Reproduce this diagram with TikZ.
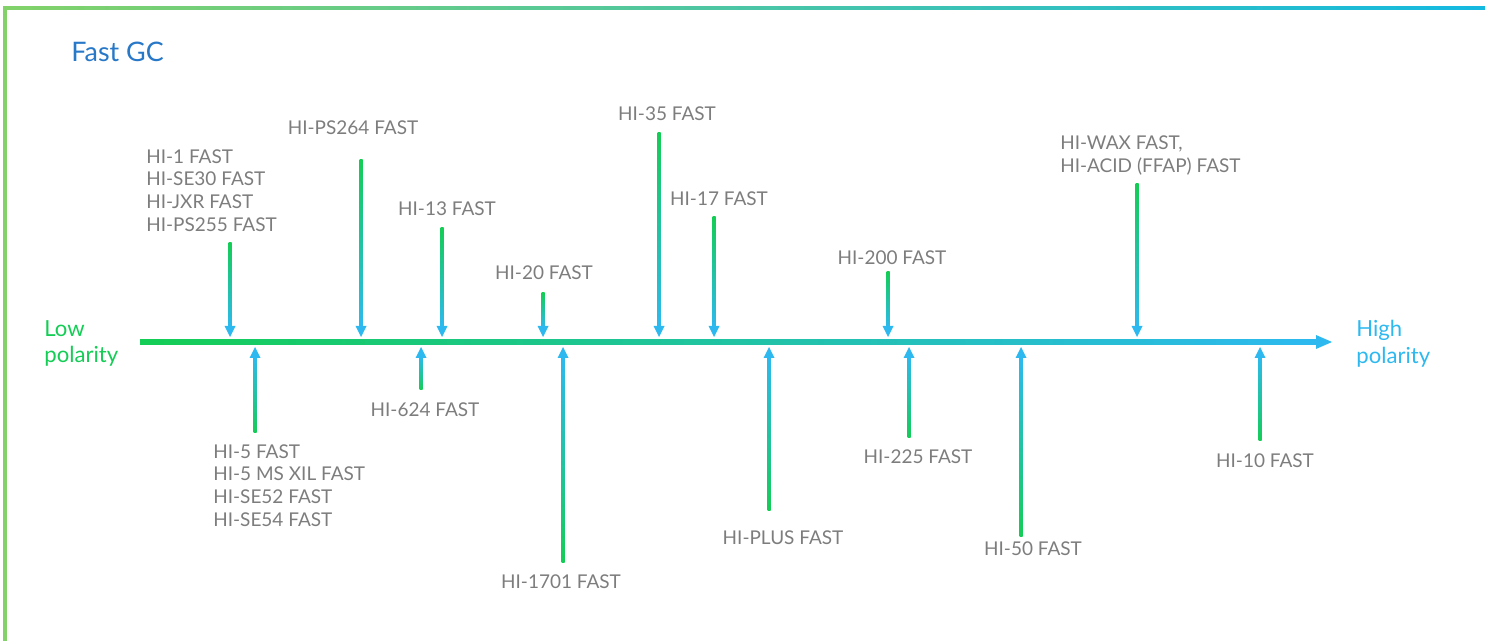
\documentclass[tikz,border=0pt]{standalone}
\usepackage{fontspec}
\setmainfont{Lato}
\usetikzlibrary{positioning,calc}

\definecolor{lowgreen}{RGB}{20,205,85}
\definecolor{highblue}{RGB}{45,185,240}
\definecolor{framegreen}{RGB}{130,210,105}
\definecolor{framecyan}{RGB}{20,185,225}
\definecolor{labelgray}{RGB}{125,125,125}
\definecolor{titleblue}{RGB}{40,120,200}

\tikzset{
  column/.style={text=labelgray, font=\fontsize{10.8}{13}\selectfont, inner sep=0pt},
  ends/.style={font=\fontsize{12.6}{15.3}\selectfont, inner sep=0pt, align=left, anchor=west}
}

\begin{document}
\begin{tikzpicture}[x=0.02cm,y=-0.02cm]
\useasboundingbox (0,0) rectangle (1485,641);

% frame
\shade[left color=framegreen,right color=framecyan] (3.5,6.5) rectangle (1485,9.5);
\fill[framegreen] (3.5,6.5) rectangle (6.5,641);

\node[anchor=west, text=titleblue, font=\fontsize{15.3}{18}\selectfont, inner sep=0pt] (title) at (71,52) {Fast GC};

% polarity axis
\coordinate (axL) at (140,342);
\coordinate (axR) at (1332,342);
\shade[left color=lowgreen,right color=highblue,middle color=lowgreen!50!highblue] ($(axL)+(0,-2.5)$) rectangle ($(axR)+(-14,2.5)$);
\fill[highblue] ($(axR)+(-16,-7)$) -- (axR) -- ($(axR)+(-16,7)$) -- cycle;

\node[ends, text=lowgreen] (low) at (44,343.5) {Low\\polarity};
\node[ends, text=highblue] (high) at (1356,343.5) {High\\polarity};

% columns above the axis
\foreach \x/\y in {230/243,361/160,442/228,543/293,659/133,714/217,888/272,1137/184}{
  \shade[top color=lowgreen,bottom color=highblue] (\x-1.5,\y) rectangle (\x+1.5,328);
  \fill[highblue] (\x-5.5,326) -- (\x+5.5,326) -- (\x,337) -- cycle;
}

% columns below the axis
\foreach \x/\y in {255/433,421/390,563/563,769/511,909/438,1021/537,1260/441}{
  \shade[top color=highblue,bottom color=lowgreen] (\x-1.5,356) rectangle (\x+1.5,\y);
  \fill[highblue] (\x-5.5,358) -- (\x+5.5,358) -- (\x,347) -- cycle;
}

\node[column, align=left, anchor=west] (hi1) at (146,190.5) {HI-1 FAST\\HI-SE30 FAST\\HI-JXR FAST\\HI-PS255 FAST};
\node[column] (ps264) at (353,128) {HI-PS264 FAST};
\node[column] (hi13) at (447,209) {HI-13 FAST};
\node[column] (hi20) at (544,273) {HI-20 FAST};
\node[column] (hi35) at (667,114) {HI-35 FAST};
\node[column] (hi17) at (719,199) {HI-17 FAST};
\node[column] (hi200) at (892,258) {HI-200 FAST};
\node[column, align=left, anchor=west] (wax) at (1060,155.5) {HI-WAX FAST,\\HI-ACID (FFAP) FAST};

\node[column, align=left, anchor=west] (hi5) at (213,485.5) {HI-5 FAST\\HI-5 MS XIL FAST\\HI-SE52 FAST\\HI-SE54 FAST};
\node[column] (hi624) at (425,410) {HI-624 FAST};
\node[column] (hi1701) at (561,582) {HI-1701 FAST};
\node[column] (plus) at (783,538) {HI-PLUS FAST};
\node[column] (hi225) at (918,457) {HI-225 FAST};
\node[column] (hi50) at (1033,549) {HI-50 FAST};
\node[column] (hi10) at (1265,461) {HI-10 FAST};

\end{tikzpicture}
\end{document}
